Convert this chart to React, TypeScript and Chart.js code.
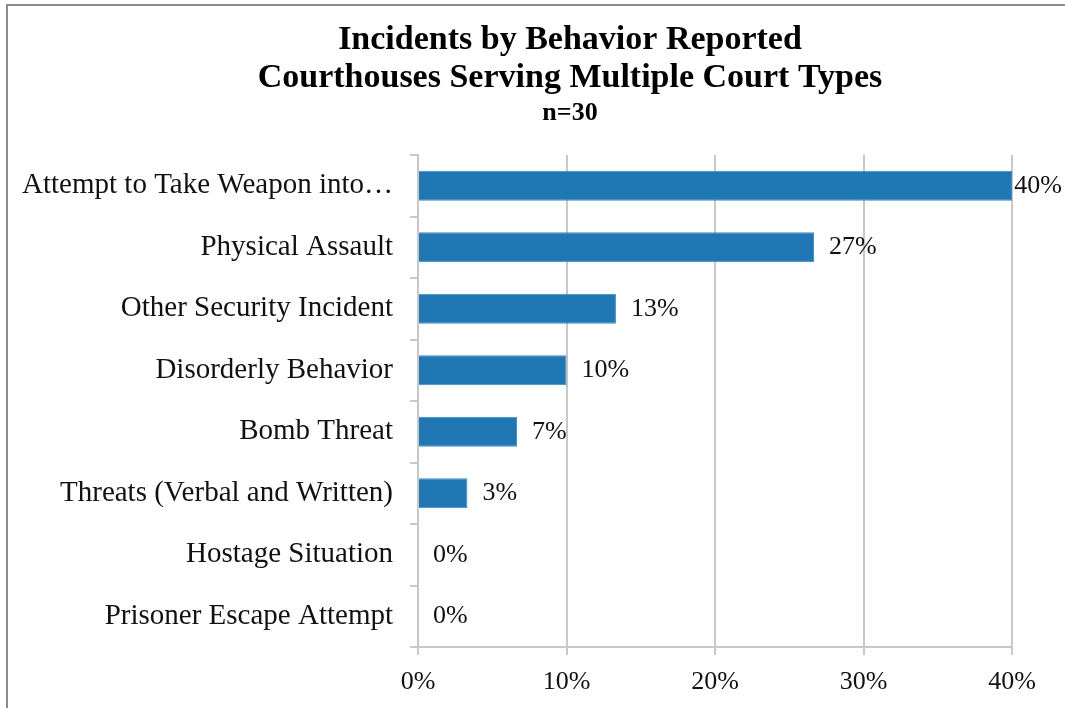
import React, { useEffect, useRef } from "react";
import { Chart, registerables } from "chart.js";

Chart.register(...registerables);

const categories = [
  "Attempt to Take Weapon into…",
  "Physical Assault",
  "Other Security Incident",
  "Disorderly Behavior",
  "Bomb Threat",
  "Threats (Verbal and Written)",
  "Hostage Situation",
  "Prisoner Escape Attempt",
];
const values = [40, 26.67, 13.33, 10, 6.67, 3.33, 0, 0];
const valueLabels = ["40%", "27%", "13%", "10%", "7%", "3%", "0%", "0%"];
const xMin = 0;
const xMax = 40;
const xStep = 10;
const titleLines = ["Incidents by Behavior Reported", "Courthouses Serving Multiple Court Types"];
const subtitleText = "n=30";

const SERIF = "'Liberation Serif', 'Times New Roman', serif";
const GRID = "#c8c8c8";
const TEXT = "#111111";
const BAR = "#2077b4";
const TITLE_CENTER_X = 570;
const TITLE_BASELINES = [49, 87];
const SUBTITLE_BASELINE = 120;

const titlePlugin = {
  id: "titlePlugin",
  afterDraw(chart: any) {
    const ctx = chart.ctx;
    ctx.save();
    ctx.fillStyle = "#000000";
    ctx.textAlign = "center";
    ctx.textBaseline = "alphabetic";
    ctx.font = `bold 34px ${SERIF}`;
    titleLines.forEach((line, i) => ctx.fillText(line, TITLE_CENTER_X, TITLE_BASELINES[i]));
    ctx.font = `bold 26px ${SERIF}`;
    ctx.fillText(subtitleText, TITLE_CENTER_X, SUBTITLE_BASELINE);
    ctx.restore();
  },
};

const valueLabelPlugin = {
  id: "valueLabelPlugin",
  afterDatasetsDraw(chart: any) {
    const ctx = chart.ctx;
    const meta = chart.getDatasetMeta(0);
    ctx.save();
    ctx.font = `26px ${SERIF}`;
    ctx.fillStyle = TEXT;
    ctx.textBaseline = "middle";
    ctx.textAlign = "left";
    meta.data.forEach((bar: any, i: number) => {
      const text = valueLabels[i];
      const w = ctx.measureText(text).width;
      let x = bar.x + 15;
      x = Math.min(x, chart.width - w - 3);
      ctx.fillText(text, x, bar.y);
    });
    ctx.restore();
  },
};

export default function App() {
  const canvasRef = useRef<HTMLCanvasElement | null>(null);

  useEffect(() => {
    if (!canvasRef.current) return;
    const chart = new Chart(canvasRef.current, {
      type: "bar",
      data: {
        labels: categories,
        datasets: [
          {
            data: values,
            backgroundColor: BAR,
            borderColor: "#3d8cc6",
            borderWidth: 1,
            barPercentage: 0.49,
            categoryPercentage: 1,
          },
        ],
      },
      options: {
        indexAxis: "y",
        animation: false,
        responsive: false,
        devicePixelRatio: 1,
        layout: { padding: { left: 0, right: 53, top: 155, bottom: 0 } },
        plugins: {
          legend: { display: false },
          tooltip: { enabled: false },
          title: { display: false },
        },
        scales: {
          x: {
            type: "linear",
            min: xMin,
            max: xMax,
            afterFit: (scale: any) => {
              scale.height = 61;
            },
            ticks: {
              stepSize: xStep,
              color: TEXT,
              padding: 12,
              font: { family: SERIF, size: 26 },
              callback: (v: any) => `${v}%`,
            },
            grid: {
              color: GRID,
              lineWidth: 2,
              drawTicks: true,
              tickLength: 8,
            },
            border: { color: GRID, width: 2 },
          },
          y: {
            type: "category",
            afterFit: (scale: any) => {
              scale.width = 418;
            },
            ticks: {
              color: TEXT,
              padding: 17,
              autoSkip: false,
              font: { family: SERIF, size: 29 },
            },
            grid: {
              color: GRID,
              lineWidth: 2,
              drawOnChartArea: false,
              drawTicks: true,
              tickLength: 8,
              offset: true,
            },
            border: { color: GRID, width: 2 },
          },
        },
      },
      plugins: [valueLabelPlugin, titlePlugin],
    });
    return () => chart.destroy();
  }, []);

  return (
    <div
      style={{
        position: "fixed",
        left: 0,
        top: 0,
        width: 1065,
        height: 708,
        overflow: "hidden",
        background: "#ffffff",
      }}
    >
      <div
        style={{
          position: "absolute",
          left: 6,
          top: 4,
          width: 1200,
          height: 900,
          border: "2px solid #8c8c8c",
          boxSizing: "border-box",
        }}
      />
      <canvas
        ref={canvasRef}
        width={1065}
        height={708}
        style={{ position: "absolute", left: 0, top: 0, width: 1065, height: 708 }}
      />
    </div>
  );
}
